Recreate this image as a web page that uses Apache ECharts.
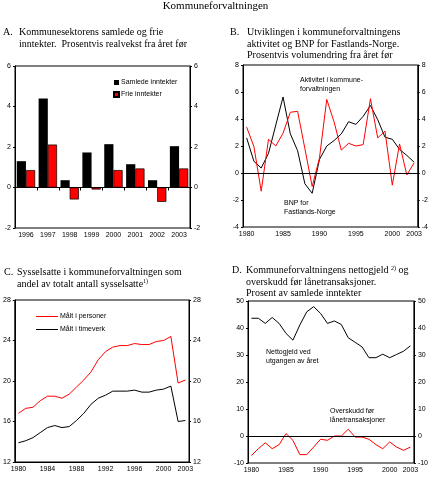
<!DOCTYPE html>
<html><head><meta charset="utf-8">
<script src="https://cdn.jsdelivr.net/npm/echarts@6/dist/echarts.min.js"></script>
<style>html,body{margin:0;padding:0;background:#fff}#c{width:431px;height:480px}</style>
</head><body><div id="c"></div>
<script>
// ---- Panel A ----
const aCategories = ['1996','1997','1998','1999','2000','2001','2002','2003'];
const aSamlede = [1.3, 4.4, 0.36, 1.73, 2.14, 1.15, 0.36, 2.04];
const aFrie    = [0.86, 2.12, -0.59, -0.1, 0.86, 0.94, -0.71, 0.94];
// ---- shared years (B, C, D) ----
const years = ['1980','1981','1982','1983','1984','1985','1986','1987','1988','1989','1990','1991',
               '1992','1993','1994','1995','1996','1997','1998','1999','2000','2001','2002','2003'];
const yearTickLabels = ['1980','1985','1990','1995','2000','2003'];
const cYearTickLabels = ['1980','1984','1988','1992','1996','2000','2003'];
// ---- Panel B ----
const bBnp       = [2.6, 0.86, 0.37, 1.45, 3.55, 5.63, 2.9, 1.65, -0.8, -1.5, 1.0, 2.0, 2.4, 2.9, 3.8, 3.6, 4.2, 5.0, 3.95, 2.65, 2.5, 1.75, 1.3, 0.8];
const bAktivitet = [3.4, 1.95, -1.35, 2.5, 2.0, 2.95, 4.5, 4.57, 1.8, -1.0, 1.1, 5.45, 3.8, 1.7, 2.2, 2.0, 2.1, 5.5, 2.6, 3.1, -0.9, 2.15, -0.15, 0.75];
// ---- Panel C ----
const cPersoner = [16.8, 17.3, 17.4, 18.05, 18.5, 18.5, 18.3, 18.7, 19.4, 20.1, 20.9, 22.1, 22.9, 23.35, 23.5, 23.5, 23.7, 23.6, 23.6, 23.9, 24.0, 24.4, 19.8, 20.1];
const cTimeverk = [13.9, 14.1, 14.4, 14.9, 15.4, 15.6, 15.4, 15.5, 16.1, 16.8, 17.7, 18.3, 18.6, 19.0, 19.0, 19.0, 19.1, 18.9, 18.9, 19.1, 19.2, 19.5, 16.0, 16.1];
// ---- Panel D ----
const dGjeld     = [43.6, 43.6, 41.7, 43.9, 41.7, 38.0, 35.5, 41.1, 46.0, 47.9, 45.4, 41.7, 42.6, 41.3, 36.4, 34.7, 33.0, 29.0, 29.0, 30.3, 29.0, 30.2, 31.4, 33.4];
const dOverskudd = [-7.2, -4.7, -2.5, -4.7, -3.2, 0.9, -1.6, -6.9, -6.9, -4.1, -1.2, -1.6, 0, 0, 2.5, -0.4, -0.4, -1.2, -3.2, -4.7, -2.2, -4.1, -5.3, -4.1];
// ---- y scales ----
const aScale = {min: -2, max: 6, interval: 2};
const bScale = {min: -4, max: 8, interval: 2};
const cScale = {min: 12, max: 28, interval: 4};
const dScale = {min: -10, max: 50, interval: 10};

const SANS = 'Liberation Sans, Arial, sans-serif';
const SERIF = 'Liberation Serif, Times New Roman, serif';
const BLACK = '#000';
const RED = '#ff0000';

function yAxes(gridIndex, scale) {
  const base = {
    type: 'value', gridIndex: gridIndex, min: scale.min, max: scale.max, interval: scale.interval,
    axisLine: {show: true, lineStyle: {color: BLACK, width: 1}},
    axisTick: {show: true, length: 2, lineStyle: {color: BLACK}},
    splitLine: {show: false},
    axisLabel: {fontSize: 7, fontFamily: SANS, color: BLACK, margin: 4}
  };
  return [Object.assign({position: 'left'}, base), Object.assign({position: 'right'}, base)];
}
function yearAxis(gridIndex, labels) {
  return {
    type: 'category', gridIndex: gridIndex, data: years, boundaryGap: true,
    axisLine: {show: true, lineStyle: {color: BLACK, width: 1}},
    axisTick: {show: false},
    axisLabel: {fontSize: 7, fontFamily: SANS, color: BLACK, margin: 4,
      interval: function (i, v) { return labels.indexOf(v) >= 0; }}
  };
}
const zeroLine = {silent: true, symbol: 'none', label: {show: false},
  lineStyle: {color: BLACK, width: 1, type: 'solid'}, data: [{yAxis: 0}]};
function line(name, xi, yi, data, color, extra) {
  return Object.assign({name: name, type: 'line', xAxisIndex: xi, yAxisIndex: yi, data: data,
    symbol: 'none', lineStyle: {color: color, width: 1}, itemStyle: {color: color}}, extra || {});
}
const gridStyle = {show: true, borderColor: BLACK, borderWidth: 1, backgroundColor: 'transparent', containLabel: false};

const chart = echarts.init(document.getElementById('c'), null, {renderer: 'canvas'});
const titleStyle = {fontFamily: SERIF, fontSize: 10, fill: BLACK, lineHeight: 11.5};
function txt(x, y, text, style) {
  return {type: 'text', left: x, top: y, silent: true, style: Object.assign({text: text}, style)};
}
const annStyle = {fontFamily: SANS, fontSize: 7, fill: BLACK, lineHeight: 9};
const supRich = {sup: {fontFamily: SERIF, fontSize: 6, verticalAlign: 'top', padding: [0, 0, 4, 0]}};

chart.setOption({
  animation: false,
  backgroundColor: '#fff',
  grid: [
    Object.assign({left: 15, top: 66, width: 175, height: 162}, gridStyle),
    Object.assign({left: 243, top: 65, width: 176, height: 162}, gridStyle),
    Object.assign({left: 14, top: 300, width: 175, height: 162}, gridStyle),
    Object.assign({left: 248, top: 301, width: 166, height: 162}, gridStyle)
  ],
  xAxis: [
    {type: 'category', gridIndex: 0, data: aCategories, boundaryGap: true,
     axisLine: {show: true, lineStyle: {color: BLACK, width: 1}},
     axisTick: {show: true, length: 3, lineStyle: {color: BLACK}},
     axisLabel: {fontSize: 7, fontFamily: SANS, color: BLACK, margin: 4}},
    yearAxis(1, yearTickLabels),
    yearAxis(2, cYearTickLabels),
    yearAxis(3, yearTickLabels)
  ],
  yAxis: [].concat(yAxes(0, aScale), yAxes(1, bScale), yAxes(2, cScale), yAxes(3, dScale)),
  legend: [
    {data: ['Samlede inntekter', 'Frie inntekter'], left: 108, top: 74, orient: 'vertical',
     icon: 'rect', itemWidth: 5, itemHeight: 5, itemGap: 5, selectedMode: false,
     textStyle: {fontSize: 7, fontFamily: SANS, color: BLACK, padding: [0, 0, 0, -3]}},
    {data: ['Målt i personer', 'Målt i timeverk'], left: 31, top: 308, orient: 'vertical',
     icon: 'rect', itemWidth: 22, itemHeight: 1, itemGap: 6, selectedMode: false,
     textStyle: {fontSize: 7, fontFamily: SANS, color: BLACK, padding: [0, 0, 0, -3]}}
  ],
  series: [
    {name: 'Samlede inntekter', type: 'bar', xAxisIndex: 0, yAxisIndex: 0, data: aSamlede,
     barGap: '0%', barCategoryGap: '16%', itemStyle: {color: BLACK}},
    {name: 'Frie inntekter', type: 'bar', xAxisIndex: 0, yAxisIndex: 0, data: aFrie,
     barGap: '0%', barCategoryGap: '16%', itemStyle: {color: RED, borderColor: BLACK, borderWidth: 0.7}},
    line('BNP for Fastlands-Norge', 1, 2, bBnp, BLACK, {markLine: zeroLine}),
    line('Aktivitet i kommuneforvaltningen', 1, 2, bAktivitet, RED),
    line('Målt i personer', 2, 4, cPersoner, RED),
    line('Målt i timeverk', 2, 4, cTimeverk, BLACK),
    line('Netttogjeld', 3, 6, dGjeld, BLACK, {markLine: zeroLine}),
    line('Overskudd før lånetransaksjoner', 3, 6, dOverskudd, RED)
  ],
  graphic: [
    {type: 'text', left: 'center', top: 1, silent: true,
     style: {text: 'Kommuneforvaltningen', fontFamily: SERIF, fontSize: 11, fill: BLACK}},
    txt(3, 27, 'A.', titleStyle),
    txt(19, 27, 'Kommunesektorens samlede og frie\ninntekter.  Prosentvis realvekst fra året før', titleStyle),
    txt(230, 27, 'B.', titleStyle),
    txt(247, 27, 'Utviklingen i kommuneforvaltningens\naktivitet og BNP for Fastlands-Norge.\nProsentvis volumendring fra året før', titleStyle),
    txt(4, 267, 'C.', titleStyle),
    txt(17, 267, 'Sysselsatte i kommuneforvaltningen som\nandel av totalt antall sysselsatte{sup|1)}',
        Object.assign({rich: supRich}, titleStyle)),
    txt(232, 265, 'D.', titleStyle),
    txt(246, 265, 'Kommuneforvaltningens nettogjeld {sup|2)} og\noverskudd før lånetransaksjoner.\nProsent av samlede inntekter',
        Object.assign({rich: supRich}, titleStyle)),
    txt(300, 76, 'Aktivitet i kommune-\nforvaltningen', annStyle),
    txt(284, 199, 'BNP for\nFastlands-Norge', annStyle),
    txt(266, 348, 'Nettogjeld ved\nutgangen av året', annStyle),
    txt(330, 407, 'Overskudd før\nlånetransaksjoner', annStyle)
  ]
});
</script>
</body></html>
